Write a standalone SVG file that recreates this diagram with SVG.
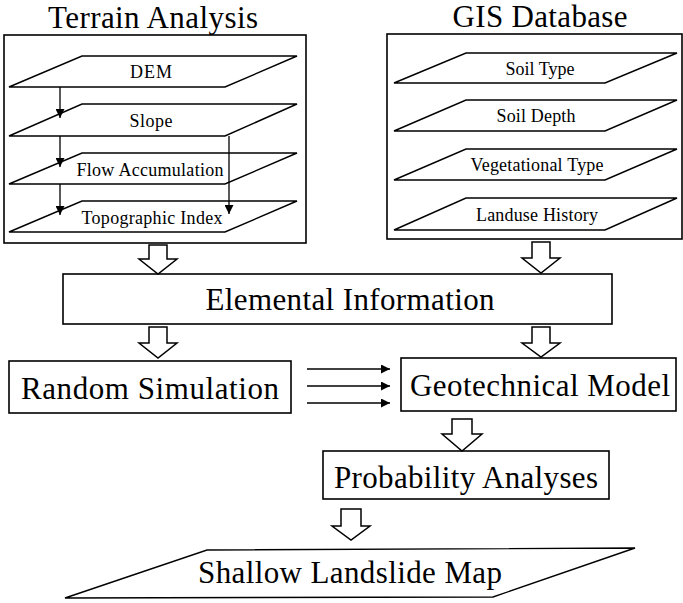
<svg xmlns="http://www.w3.org/2000/svg" width="683" height="603" viewBox="0 0 683 603">
  <style>
    .frame { fill: none; stroke: #000; stroke-width: 1.6; }
    .layer { fill: #fff; stroke: #000; stroke-width: 1.4; }
    .box { fill: #fff; stroke: #000; stroke-width: 1.6; }
    .hollow { fill: #fff; stroke: #000; stroke-width: 1.5; stroke-linejoin: miter; }
    .link { fill: none; stroke: #000; stroke-width: 1.3; }
    text { font-family: "Liberation Serif", "Times New Roman", serif; fill: #000; text-anchor: middle; }
    .title { font-size: 31px; }
    .small { font-size: 18px; }
    .big { font-size: 31px; }
  </style>
  <defs>
    <marker id="head" viewBox="0 0 10 10" refX="10" refY="5" markerWidth="11" markerHeight="9" markerUnits="userSpaceOnUse" orient="auto">
      <path d="M0,0 L10,5 L0,10 Z" fill="#000"/>
    </marker>
    <marker id="headWide" viewBox="0 0 10 10" refX="10" refY="5" markerWidth="10" markerHeight="9" markerUnits="userSpaceOnUse" orient="auto">
      <path d="M0,0 L10,5 L0,10 Z" fill="#000"/>
    </marker>
  </defs>
  <rect width="683" height="603" fill="#fff"/>

  <!-- Terrain analysis panel -->
  <g id="terrain-analysis">
    <text class="title" x="153" y="28" textLength="210" lengthAdjust="spacing">Terrain Analysis</text>
    <rect class="frame" x="4" y="35" width="302" height="208"/>
    <g id="dem">
      <polygon class="layer" points="82,56 297,56 225,87 9,87"/>
      <text class="small" x="151" y="78" textLength="42" lengthAdjust="spacing">DEM</text>
    </g>
    <g id="slope">
      <polygon class="layer" points="82,104 297,104 225,136 9,136"/>
      <text class="small" x="151" y="127" textLength="43" lengthAdjust="spacing">Slope</text>
    </g>
    <g id="flow-accumulation">
      <polygon class="layer" points="82,153 297,153 225,184 9,184"/>
      <text class="small" x="150" y="176" textLength="147" lengthAdjust="spacing">Flow Accumulation</text>
    </g>
    <g id="topographic-index">
      <polygon class="layer" points="82,201 297,201 225,232 9,232"/>
      <text class="small" x="152" y="224" textLength="141" lengthAdjust="spacing">Topographic Index</text>
    </g>
  </g>

  <!-- GIS database panel -->
  <g id="gis-database">
    <text class="title" x="540" y="27" textLength="175" lengthAdjust="spacing">GIS Database</text>
    <rect class="frame" x="387" y="34" width="295" height="205"/>
    <g id="soil-type">
      <polygon class="layer" points="466,53 677,53 605,83 394,83"/>
      <text class="small" x="540" y="75">Soil Type</text>
    </g>
    <g id="soil-depth">
      <polygon class="layer" points="466,100 677,100 605,131 394,131"/>
      <text class="small" x="536" y="122" textLength="79" lengthAdjust="spacing">Soil Depth</text>
    </g>
    <g id="vegetational-type">
      <polygon class="layer" points="466,149 677,149 605,180 394,180"/>
      <text class="small" x="537" y="171" textLength="133" lengthAdjust="spacing">Vegetational Type</text>
    </g>
    <g id="landuse-history">
      <polygon class="layer" points="466,198 677,198 605,230 394,230"/>
      <text class="small" x="537" y="221" textLength="122" lengthAdjust="spacing">Landuse History</text>
    </g>
  </g>

  <g id="elemental-information">
    <rect class="box" x="63" y="274" width="549" height="50"/>
    <text class="big" x="350" y="310" textLength="289" lengthAdjust="spacing">Elemental Information</text>
  </g>

  <g id="random-simulation">
    <rect class="box" x="9" y="361" width="282" height="52"/>
    <text class="big" x="150" y="399" textLength="258" lengthAdjust="spacing">Random Simulation</text>
  </g>

  <g id="geotechnical-model">
    <rect class="box" x="401" y="358" width="275" height="53"/>
    <text class="big" x="540" y="396" textLength="260" lengthAdjust="spacing">Geotechnical Model</text>
  </g>

  <g id="probability-analyses">
    <rect class="box" x="323" y="451" width="286" height="48"/>
    <text class="big" x="466" y="488" textLength="264" lengthAdjust="spacing">Probability Analyses</text>
  </g>

  <g id="shallow-landslide-map">
    <polygon class="layer" points="207,550 635,548 493,597 65,598"/>
    <text class="big" x="350" y="583" textLength="304" lengthAdjust="spacing">Shallow Landslide Map</text>
  </g>

  <!-- Connectors -->
  <g id="connectors">
    <!-- layer derivation arrows inside the terrain panel -->
    <line class="link" x1="60" y1="87" x2="60" y2="118" marker-end="url(#head)"/>
    <line class="link" x1="60" y1="136" x2="60" y2="167" marker-end="url(#head)"/>
    <line class="link" x1="60" y1="184" x2="60" y2="215" marker-end="url(#head)"/>
    <line class="link" x1="229" y1="136" x2="229" y2="214" marker-end="url(#head)"/>

    <!-- hollow block arrows between stages -->
    <path class="hollow" d="M149,245 H167 V259 H177 L158,274 L139,259 H149 Z"/>
    <path class="hollow" d="M532,242 H550 V258 H560 L541,273 L522,258 H532 Z"/>
    <path class="hollow" d="M149,327 H167 V343 H177 L158,358 L139,343 H149 Z"/>
    <path class="hollow" d="M532,327 H550 V343 H560 L541,357 L522,343 H532 Z"/>
    <path class="hollow" d="M452,419 H472 V434 H482 L462,451 L442,434 H452 Z"/>
    <path class="hollow" d="M341,509 H361 V526 H370 L351,540 L332,526 H341 Z"/>

    <!-- sampled parameter sets passed to the model -->
    <line class="link" x1="307" y1="369" x2="390" y2="369" marker-end="url(#headWide)"/>
    <line class="link" x1="307" y1="386" x2="390" y2="386" marker-end="url(#headWide)"/>
    <line class="link" x1="307" y1="403" x2="390" y2="403" marker-end="url(#headWide)"/>
  </g>
</svg>
